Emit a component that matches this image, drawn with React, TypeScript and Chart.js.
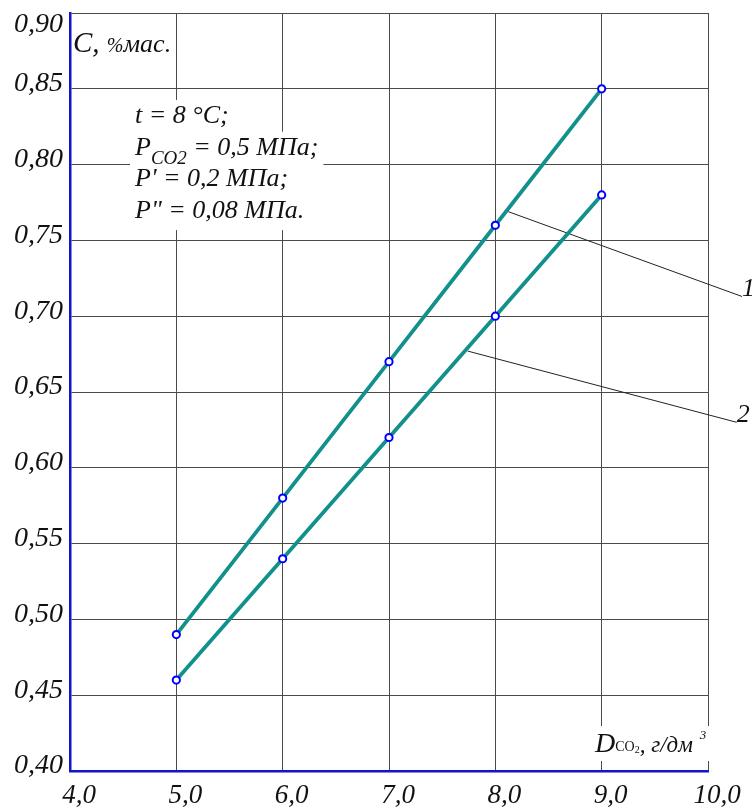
import React, { useEffect, useRef } from 'react';
import { Chart, registerables } from 'chart.js';

Chart.register(...registerables);

// ---- data ----
const xValues = [5, 6, 7, 8, 9];
const curve1 = [0.49, 0.58, 0.67, 0.76, 0.85];
const curve2 = [0.46, 0.54, 0.62, 0.7, 0.78];

// leader lines from curves to their numbers (data units)
const leader1X = [8.12, 10.32];
const leader1Y = [0.769, 0.713];
const leader2X = [7.74, 10.27];
const leader2Y = [0.677, 0.63];
const curveLabels = ['1', '2'];

// axes
const xMin = 4;
const xMax = 10;
const xStep = 1;
const yMin = 0.4;
const yMax = 0.9;
const yStep = 0.05;

const FONT = '"Liberation Serif", "Times New Roman", serif';
const AXIS_BLUE = '#1414c8';
const TEAL = '#12918c';
const GRID = '#4a4a4a';
const INK = '#111111';

type Seg = { t: string; size: number; italic?: boolean; dy?: number; dx?: number };

const yTitle: Seg[] = [
  { t: 'C, ', size: 29 },
  { t: '%', size: 20 },
  { t: 'мас.', size: 26 },
];

const xTitle: Seg[] = [
  { t: 'D', size: 28 },
  { t: 'CO', size: 14, italic: false, dy: -1 },
  { t: '2', size: 10, italic: false, dy: 1 },
  { t: ', г/дм', size: 23 },
  { t: '3', size: 13, dy: -13, dx: 7 },
];

const infoLines: Seg[][] = [
  [{ t: 't = 8 °C;', size: 26 }],
  [
    { t: 'P', size: 26 },
    { t: 'CO2', size: 19, dy: 9 },
    { t: ' = 0,5 МПа;', size: 26 },
  ],
  [{ t: "P' = 0,2 МПа;", size: 26 }],
  [{ t: 'P" = 0,08 МПа.', size: 26 }],
];

function segFont(s: Seg) {
  return `${s.italic === false ? 'normal' : 'italic'} ${s.size}px ${FONT}`;
}

function measureSegs(ctx: CanvasRenderingContext2D, segs: Seg[]) {
  let w = 0;
  for (const s of segs) {
    ctx.font = segFont(s);
    w += (s.dx || 0) + ctx.measureText(s.t).width;
  }
  return w;
}

function drawSegs(ctx: CanvasRenderingContext2D, x: number, y: number, segs: Seg[]) {
  for (const s of segs) {
    ctx.font = segFont(s);
    x += s.dx || 0;
    ctx.fillText(s.t, x, y + (s.dy || 0));
    x += ctx.measureText(s.t).width;
  }
}

const overlayPlugin = {
  id: 'overlay',
  beforeDatasetsDraw(chart: any) {
    const { ctx, chartArea: a } = chart;
    ctx.save();
    ctx.textAlign = 'left';
    ctx.textBaseline = 'alphabetic';

    // info block: masks first, then text
    const infoLeft = a.left + 65;
    const infoTop = a.top + 110;
    const step = 31.7;
    ctx.fillStyle = '#ffffff';
    infoLines.forEach((segs, i) => {
      const base = infoTop + i * step;
      const w = measureSegs(ctx, segs);
      ctx.fillRect(infoLeft - 5, base - 23, w + 10, 35);
    });
    ctx.fillStyle = INK;
    infoLines.forEach((segs, i) => {
      drawSegs(ctx, infoLeft, infoTop + i * step, segs);
    });

    // y axis title
    drawSegs(ctx, a.left + 3, a.top + 39, yTitle);

    // x axis title with mask
    const xtLeft = a.right - 113;
    const xtBase = a.bottom - 19;
    ctx.fillStyle = '#ffffff';
    ctx.fillRect(xtLeft - 5, xtBase - 26, a.right + 4 - (xtLeft - 5), 35);
    ctx.fillStyle = INK;
    drawSegs(ctx, xtLeft, xtBase, xTitle);

    ctx.restore();
  },
  afterDatasetsDraw(chart: any) {
    const { ctx, scales } = chart;
    ctx.save();
    ctx.fillStyle = INK;
    ctx.textAlign = 'left';
    ctx.textBaseline = 'alphabetic';
    ctx.font = `italic 26px ${FONT}`;
    const ends = [
      [leader1X[1], leader1Y[1]],
      [leader2X[1], leader2Y[1]],
    ];
    ends.forEach((p, i) => {
      const px = scales.x.getPixelForValue(p[0]);
      const py = scales.y.getPixelForValue(p[1]);
      ctx.fillText(curveLabels[i], px, py);
    });
    ctx.restore();
  },
};

export default function App() {
  const ref = useRef<HTMLCanvasElement | null>(null);

  useEffect(() => {
    const canvas = ref.current;
    if (!canvas) return;

    const toPts = (xs: number[], ys: number[]) => xs.map((x, i) => ({ x, y: ys[i] }));

    const curveStyle = {
      borderColor: TEAL,
      borderWidth: 3.8,
      pointRadius: 3.6,
      pointBorderWidth: 2,
      pointBorderColor: '#0000ff',
      pointBackgroundColor: '#ffffff',
      tension: 0,
    };

    const chart = new Chart(canvas, {
      type: 'line',
      data: {
        datasets: [
          { data: toPts(xValues, curve1), ...curveStyle, order: 1 },
          { data: toPts(xValues, curve2), ...curveStyle, order: 2 },
          {
            data: toPts(leader1X, leader1Y),
            borderColor: '#222222',
            borderWidth: 1,
            pointRadius: 0,
            clip: false,
            order: 5,
          },
          {
            data: toPts(leader2X, leader2Y),
            borderColor: '#222222',
            borderWidth: 1,
            pointRadius: 0,
            clip: false,
            order: 6,
          },
        ],
      },
      options: {
        animation: false,
        responsive: false,
        devicePixelRatio: 1,
        layout: { padding: { top: 13, right: 44, left: 0, bottom: 0 } },
        plugins: {
          legend: { display: false },
          tooltip: { enabled: false },
        },
        events: [],
        scales: {
          x: {
            type: 'linear',
            min: xMin,
            max: xMax,
            ticks: {
              stepSize: xStep,
              autoSkip: false,
              maxRotation: 0,
              padding: 9,
              labelOffset: 9,
              color: INK,
              font: { family: FONT, size: 27, style: 'italic' },
              callback: (v: any) => Number(v).toFixed(1).replace('.', ','),
            },
            grid: { color: GRID, lineWidth: 1, drawTicks: false },
            border: { display: true, color: AXIS_BLUE, width: 2.5 },
            afterFit: (s: any) => {
              s.height = 39;
              s.paddingLeft = 0;
              s.paddingRight = 0;
            },
          },
          y: {
            type: 'linear',
            min: yMin,
            max: yMax,
            ticks: {
              stepSize: yStep,
              autoSkip: false,
              padding: 7,
              labelOffset: -5,
              color: INK,
              font: { family: FONT, size: 28, style: 'italic' },
              callback: (v: any) => {
                const s = Number(v).toFixed(2).replace('.', ',');
                return Math.abs(Number(v) - yMax) < 1e-6 ? ['', s] : s;
              },
            },
            grid: { color: GRID, lineWidth: 1, drawTicks: false },
            border: { display: true, color: AXIS_BLUE, width: 2.5 },
            afterFit: (s: any) => {
              s.width = 70;
              s.paddingTop = 0;
              s.paddingBottom = 0;
            },
          },
        },
      },
      plugins: [overlayPlugin],
    } as any);

    return () => chart.destroy();
  }, []);

  return (
    <div style={{ position: 'fixed', left: 0, top: 0, width: 752, height: 810, background: '#fff' }}>
      <canvas ref={ref} width={752} height={810} style={{ display: 'block' }} />
    </div>
  );
}
